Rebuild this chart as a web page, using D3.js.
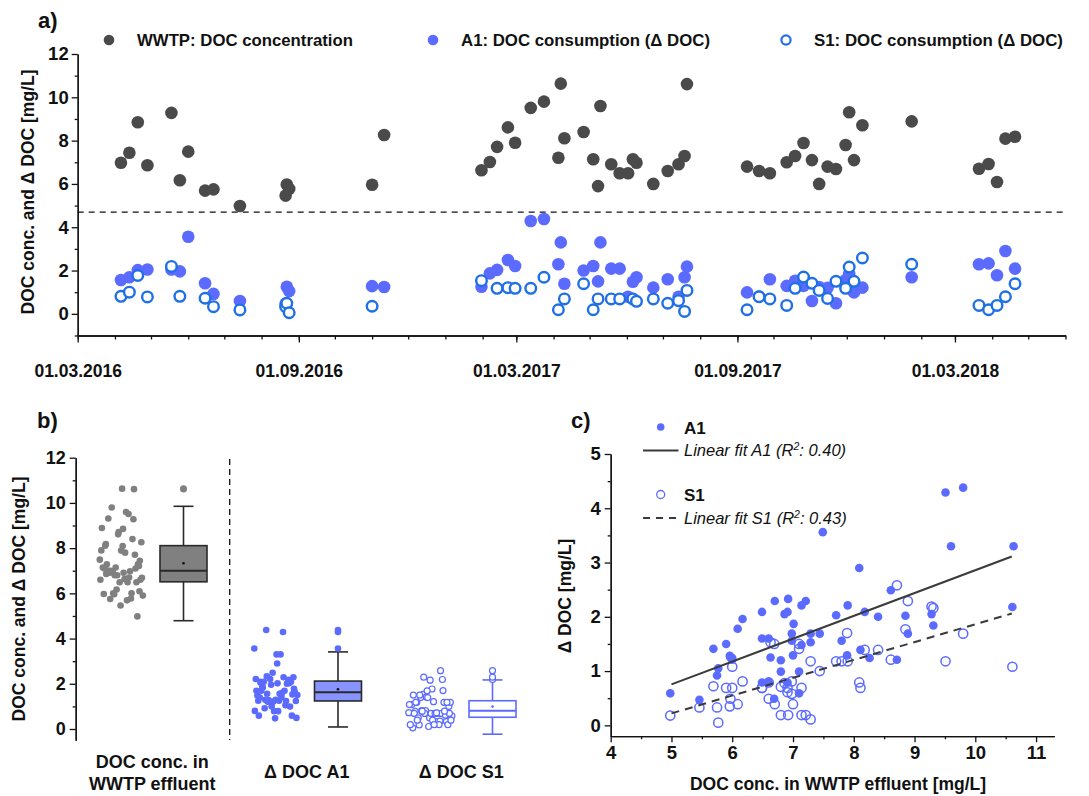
<!DOCTYPE html>
<html><head><meta charset="utf-8">
<script src="https://cdn.jsdelivr.net/npm/d3@7"></script>
<style>
body{margin:0;background:#fff;}
svg text{font-family:"Liberation Sans",Arial,sans-serif;fill:#111;}
.axis path,.axis line{stroke:#111;stroke-width:1.3;}
</style></head><body>
<svg id="fig" width="1089" height="796" font-weight="bold"></svg>
<script>
// Sampling campaign: WWTP effluent DOC and DOC consumption in columns A1 and S1
const sampleDates = ["2016-04-06","2016-04-13","2016-04-20","2016-04-28","2016-05-18","2016-05-25","2016-06-01","2016-06-15","2016-06-22","2016-07-14","2016-08-21","2016-08-22","2016-08-24","2016-11-01","2016-11-11",
"2017-01-31","2017-02-07","2017-02-13","2017-02-22","2017-02-28","2017-03-13","2017-03-24","2017-04-05","2017-04-07","2017-04-10","2017-04-26","2017-05-04","2017-05-08","2017-05-10","2017-05-19","2017-05-26","2017-06-02","2017-06-06","2017-06-09","2017-06-23","2017-07-05","2017-07-14","2017-07-19","2017-07-21",
"2017-09-09","2017-09-19","2017-09-28","2017-10-12","2017-10-19","2017-10-26","2017-11-02","2017-11-08","2017-11-15","2017-11-22","2017-11-30","2017-12-03","2017-12-07","2017-12-14",
"2018-01-24","2018-03-21","2018-03-29","2018-04-05","2018-04-12","2018-04-20"];
const wwtpDOC = [6.98,7.44,8.85,6.86,9.28,6.17,7.49,5.69,5.75,4.98,5.46,5.97,5.77,5.96,8.26,
6.63,7.01,7.71,8.61,7.90,9.51,9.80,7.21,10.63,8.11,8.40,7.14,5.90,9.60,6.91,6.49,6.49,7.14,6.98,6.00,6.60,6.91,7.29,10.61,
6.80,6.60,6.49,7.00,7.29,7.89,7.10,6.00,6.80,6.69,7.80,9.31,7.10,8.71,
8.89,6.70,6.92,6.09,8.09,8.18];
const deltaA1 = [1.56,1.69,2.02,2.05,2.05,1.96,3.56,1.41,0.92,0.59,0.47,1.25,1.05,1.28,1.24,
1.25,1.87,2.03,2.49,2.21,4.29,4.38,2.29,3.30,1.39,2.00,2.21,1.50,3.30,2.09,2.09,0.79,1.48,1.69,1.21,1.60,0.79,1.69,2.18,
0.99,0.80,1.60,1.29,1.53,1.29,0.59,1.24,1.20,0.49,1.56,1.84,0.99,1.21,
1.69,2.29,2.33,1.78,2.90,2.09];
const deltaS1 = [0.81,1.00,1.77,0.78,2.19,0.81,null,0.72,0.33,0.18,0.33,0.49,0.05,0.35,null,
1.53,null,1.18,1.21,1.18,1.18,1.69,0.19,null,0.69,1.39,0.19,0.69,null,0.69,0.69,null,0.69,0.58,0.69,0.49,0.61,0.11,1.08,
0.19,0.79,0.69,0.39,1.18,1.70,1.41,1.08,0.71,1.50,1.18,2.16,1.50,2.58,
2.29,0.39,0.19,0.39,0.79,1.39];
const dateTicks = ["2016-03-01","2016-09-01","2017-03-01","2017-09-01","2018-03-01"];
const thresholdDOC = [4.7];

// Box plot statistics (whisker low, Q1, median, Q3, whisker high, mean)
const boxGroups = ["WWTP","A1","S1"];
const boxLow = [4.79, 0.09, -0.23];
const boxQ1 = [6.51, 1.24, 0.52];
const boxMedian = [7.0, 1.62, 0.81];
const boxQ3 = [8.11, 2.12, 1.25];
const boxHigh = [9.85, 3.41, 2.17];
const boxMean = [7.33, 1.76, 0.99];

// Linear regressions of Δ DOC against effluent DOC
const fitNames = ["A1","S1"];
const fitSlope = [0.4205, 0.3286];
const fitIntercept = [-1.347, -1.423];
const fitR2 = ["0.40","0.43"];
const fitXRange = [5.0, 10.6];

const colGray = "#4a4a4a", colGrayLight = "#808080", colA1 = "#5b6bff", colS1a = "#1f6fe6", colBoxA1 = "#8794ff";

const svg = d3.select("#fig");
const parse = d3.timeParse("%Y-%m-%d");
const rows = sampleDates.map((d,i)=>({date:parse(d), doc:wwtpDOC[i], a1:deltaA1[i], s1:deltaS1[i]}));

// ---------- panel a ----------
const xa = d3.scaleTime().domain([parse("2016-03-01"), parse("2018-06-01")]).range([77.7, 1065.5]);
const ya = d3.scaleLinear().domain([-1,12]).range([335.5, 54]);
const ga = svg.append("g");

ga.append("g").attr("class","axis").attr("transform","translate(0,335.5)")
  .call(d3.axisBottom(xa).tickValues(d3.timeMonth.range(parse("2016-03-01"), parse("2018-06-02"))).tickSize(4).tickSizeOuter(0).tickFormat(""));
ga.append("g").attr("class","axis").attr("transform","translate(0,335.5)")
  .call(d3.axisBottom(xa).tickValues(dateTicks.map(parse)).tickSize(7).tickSizeOuter(0).tickPadding(22).tickFormat(d3.timeFormat("%d.%m.%Y")))
  .call(g=>g.selectAll("text").attr("font-size",17.5));
ga.append("g").attr("class","axis").attr("transform","translate(77.7,0)")
  .call(d3.axisLeft(ya).tickValues([-1,1,3,5,7,9,11]).tickSize(3).tickSizeOuter(0).tickFormat(""));
ga.append("g").attr("class","axis").attr("transform","translate(77.7,0)")
  .call(d3.axisLeft(ya).tickValues(d3.range(0,13,2)).tickSize(6).tickSizeOuter(0).tickPadding(3))
  .call(g=>g.selectAll("text").attr("font-size",18.5));
ga.append("text").attr("transform","translate(34,192) rotate(-90)").attr("text-anchor","middle")
  .attr("font-size",17.5).text("DOC conc. and Δ DOC [mg/L]");
ga.append("line").attr("x1",xa.range()[0]).attr("x2",xa.range()[1]).attr("y1",ya(thresholdDOC[0])).attr("y2",ya(thresholdDOC[0]))
  .attr("stroke","#111").attr("stroke-width",1.3).attr("stroke-dasharray","6,5");

ga.selectAll("circle.doc").data(rows).join("circle").attr("class","doc")
  .attr("cx",d=>xa(d.date)).attr("cy",d=>ya(d.doc)).attr("r",6.3).attr("fill",colGray);
ga.selectAll("circle.a1").data(rows).join("circle").attr("class","a1")
  .attr("cx",d=>xa(d.date)).attr("cy",d=>ya(d.a1)).attr("r",6.3).attr("fill",colA1);
ga.selectAll("circle.s1").data(rows.filter(d=>d.s1!==null)).join("circle").attr("class","s1")
  .attr("cx",d=>xa(d.date)).attr("cy",d=>ya(d.s1)).attr("r",5.3).attr("fill","#fff").attr("stroke",colS1a).attr("stroke-width",2.4);

// legend a
const legA = [
  {x:109, label:"WWTP: DOC concentration", kind:"doc", w:216},
  {x:433, label:"A1: DOC consumption (Δ DOC)", kind:"a1", w:249},
  {x:786, label:"S1: DOC consumption (Δ DOC)", kind:"s1", w:249}];
legA.forEach(l=>{
  const c = ga.append("circle").attr("cx",l.x).attr("cy",40).attr("r",l.kind==="s1"?4.6:5.3);
  if(l.kind==="doc") c.attr("fill",colGray);
  else if(l.kind==="a1") c.attr("fill",colA1);
  else c.attr("fill","#fff").attr("stroke",colS1a).attr("stroke-width",2.2);
  ga.append("text").attr("x",l.x+28).attr("y",46).attr("font-size",17)
    .attr("textLength",l.w).attr("lengthAdjust","spacingAndGlyphs").text(l.label);
});
svg.append("text").attr("x",38).attr("y",28).attr("font-size",22).text("a)");

// ---------- panel b ----------
const yb = d3.scaleLinear().domain([-0.5,12]).range([740.3, 457.7]);
const xg = d3.scaleLinear().domain([0,2]).range([121, 430]);
const boxOffset = 62.5, boxW = 47, capW = 20;
const gb = svg.append("g");
gb.append("g").attr("class","axis").attr("transform","translate(75.7,0)")
  .call(d3.axisLeft(yb).tickValues([1,3,5,7,9,11]).tickSize(3).tickSizeOuter(0).tickFormat(""));
gb.append("g").attr("class","axis").attr("transform","translate(75.7,0)")
  .call(d3.axisLeft(yb).tickValues(d3.range(0,13,2)).tickSize(6).tickSizeOuter(0).tickPadding(4))
  .call(g=>g.selectAll("text").attr("font-size",18));
gb.append("text").attr("transform","translate(25,599) rotate(-90)").attr("text-anchor","middle")
  .attr("font-size",17.5).text("DOC conc. and Δ DOC [mg/L]");
gb.append("line").attr("x1",229.7).attr("x2",229.7).attr("y1",459).attr("y2",740)
  .attr("stroke","#111").attr("stroke-width",1.3).attr("stroke-dasharray","6,4");

const groupVals = [wwtpDOC, deltaA1, deltaS1.filter(v=>v!==null)];
const groupStyle = [
  {fill:colGrayLight, stroke:null, boxFill:colGrayLight, boxStroke:"#2a2a2a"},
  {fill:colA1, stroke:null, boxFill:colBoxA1, boxStroke:"#2a2a2a"},
  {fill:"#fff", stroke:colA1, boxFill:"#fff", boxStroke:colA1}];
groupVals.forEach((vals,gi)=>{
  const st = groupStyle[gi];
  const cx = xg(gi);
  // spread the samples sideways with a golden-ratio sequence
  vals.forEach((v,i)=>{
    const off = (((i*0.618034+0.31)%1)-0.5)*44;
    const c = gb.append("circle").attr("cx",cx+off).attr("cy",yb(v)).attr("r",st.stroke?3:3.3);
    if(st.stroke) c.attr("fill","#fff").attr("stroke",st.stroke).attr("stroke-width",1.2);
    else c.attr("fill",st.fill);
  });
  const bx = cx + boxOffset;
  const ln = (x1,y1,x2,y2,w)=>gb.append("line").attr("x1",x1).attr("x2",x2).attr("y1",y1).attr("y2",y2)
      .attr("stroke",st.boxStroke).attr("stroke-width",w||1.6);
  ln(bx,yb(boxQ3[gi]),bx,yb(boxHigh[gi]));
  ln(bx,yb(boxQ1[gi]),bx,yb(boxLow[gi]));
  ln(bx-capW/2,yb(boxHigh[gi]),bx+capW/2,yb(boxHigh[gi]));
  ln(bx-capW/2,yb(boxLow[gi]),bx+capW/2,yb(boxLow[gi]));
  gb.append("rect").attr("x",bx-boxW/2).attr("width",boxW).attr("y",yb(boxQ3[gi]))
    .attr("height",yb(boxQ1[gi])-yb(boxQ3[gi])).attr("fill",st.boxFill).attr("stroke",st.boxStroke).attr("stroke-width",1.6);
  ln(bx-boxW/2,yb(boxMedian[gi]),bx+boxW/2,yb(boxMedian[gi]),2);
  gb.append("circle").attr("cx",bx).attr("cy",yb(boxMean[gi])).attr("r",1.3).attr("fill",gi===2?colA1:"#111");
  vals.filter(v=>v>boxHigh[gi]||v<boxLow[gi]).forEach(v=>{
    const c = gb.append("circle").attr("cx",bx).attr("cy",yb(v)).attr("r",st.stroke?3:3.3);
    if(st.stroke) c.attr("fill","#fff").attr("stroke",st.stroke).attr("stroke-width",1.2);
    else c.attr("fill",st.fill);
  });
});
const catLabels = [["DOC conc. in","WWTP effluent"],["Δ DOC A1"],["Δ DOC S1"]];
catLabels.forEach((lines,gi)=>{
  const x = xg(gi)+boxOffset/2;
  lines.forEach((t,k)=>{
    gb.append("text").attr("x",x).attr("y",lines.length===1?778:768+k*22).attr("text-anchor","middle")
      .attr("font-size",18).text(t);
  });
});
svg.append("text").attr("x",37).attr("y",428).attr("font-size",22).text("b)");

// ---------- panel c ----------
const xc = d3.scaleLinear().domain([4,11.3]).range([610.7, 1054.3]);
const yc = d3.scaleLinear().domain([-0.2,5]).range([736.2, 454]);
const gc = svg.append("g");
gc.append("g").attr("class","axis").attr("transform","translate(0,736.2)")
  .call(d3.axisBottom(xc).tickValues(d3.range(4.5,11.3,1)).tickSize(3).tickSizeOuter(0).tickFormat(""));
gc.append("g").attr("class","axis").attr("transform","translate(0,736.2)")
  .call(d3.axisBottom(xc).tickValues(d3.range(4,12,1)).tickSize(6).tickSizeOuter(0).tickPadding(4).tickFormat(d3.format("d")))
  .call(g=>g.selectAll("text").attr("font-size",18.5));
gc.append("g").attr("class","axis").attr("transform","translate(610.7,0)")
  .call(d3.axisLeft(yc).tickValues([0.5,1.5,2.5,3.5,4.5]).tickSize(3).tickSizeOuter(0).tickFormat(""));
gc.append("g").attr("class","axis").attr("transform","translate(610.7,0)")
  .call(d3.axisLeft(yc).tickValues(d3.range(0,6,1)).tickSize(6).tickSizeOuter(0).tickPadding(4).tickFormat(d3.format("d")))
  .call(g=>g.selectAll("text").attr("font-size",18.5));
gc.append("text").attr("transform","translate(571,596) rotate(-90)").attr("text-anchor","middle")
  .attr("font-size",17.5).text("Δ DOC [mg/L]");
gc.append("text").attr("x",838).attr("y",790).attr("text-anchor","middle")
  .attr("font-size",17.5).text("DOC conc. in WWTP effluent [mg/L]");

gc.selectAll("circle.ca1").data(rows).join("circle").attr("class","ca1")
  .attr("cx",d=>xc(d.doc)).attr("cy",d=>yc(d.a1)).attr("r",4.3).attr("fill",colA1);
gc.selectAll("circle.cs1").data(rows.filter(d=>d.s1!==null)).join("circle").attr("class","cs1")
  .attr("cx",d=>xc(d.doc)).attr("cy",d=>yc(d.s1)).attr("r",4.6).attr("fill","none").attr("stroke",colA1).attr("stroke-width",1.5);
fitNames.forEach((n,i)=>{
  gc.append("line").attr("x1",xc(fitXRange[0])).attr("x2",xc(fitXRange[1]))
    .attr("y1",yc(fitSlope[i]*fitXRange[0]+fitIntercept[i])).attr("y2",yc(fitSlope[i]*fitXRange[1]+fitIntercept[i]))
    .attr("stroke","#3a3a3a").attr("stroke-width",2).attr("stroke-dasharray",i===1?"8,6":null);
});
// legend c
fitNames.forEach((n,i)=>{
  const y0 = 427 + i*67.5;
  const c = gc.append("circle").attr("cx",660.7).attr("cy",y0).attr("r",i===0?3.8:4);
  if(i===0) c.attr("fill",colA1); else c.attr("fill","#fff").attr("stroke",colA1).attr("stroke-width",1.3);
  gc.append("text").attr("x",684).attr("y",y0+6.5).attr("font-size",17).text(n);
  const yl = y0 + 23.5;
  gc.append("line").attr("x1",643).attr("x2",678.5).attr("y1",yl).attr("y2",yl)
    .attr("stroke","#3a3a3a").attr("stroke-width",2).attr("stroke-dasharray",i===1?"7,6":null);
  const t = gc.append("text").attr("x",684).attr("y",yl+5.5).attr("font-size",16.5)
    .attr("font-style","italic").attr("font-weight","normal");
  t.append("tspan").text("Linear fit "+n+" (R");
  t.append("tspan").attr("dy",-6).attr("font-size",10.5).text("2");
  t.append("tspan").attr("dy",6).text(": "+fitR2[i]+")");
});
svg.append("text").attr("x",571).attr("y",428).attr("font-size",22).text("c)");
</script>
</body></html>
